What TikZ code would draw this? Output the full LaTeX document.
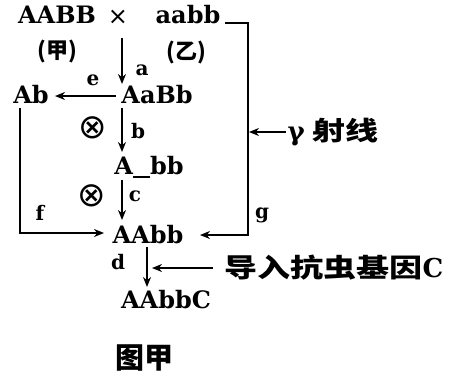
\documentclass[tikz,border=0pt]{standalone}
\usepackage{fontspec}
\setmainfont{DejaVu Serif}
\newfontfamily\symf{DejaVu Sans}
\newfontfamily\cjkf[FakeStretch=1.27]{Noto Sans CJK SC}
\newfontfamily\cjkt{Noto Sans CJK SC}
\usetikzlibrary{arrows.meta}
\tikzset{
  lat/.style={inner sep=0pt,font=\fontsize{24}{26}\selectfont\bfseries},
  lbl/.style={inner sep=0pt,font=\fontsize{20}{22}\selectfont\bfseries},
  cj/.style={inner sep=0pt,font=\fontsize{26}{28}\selectfont\cjkf\bfseries},
  cjp/.style={inner sep=0pt,font=\fontsize{22}{24}\selectfont\cjkt\bfseries},
  sym/.style={inner sep=0pt,font=\fontsize{24}{26}\selectfont\symf},
  slf/.style={inner sep=0pt,font=\fontsize{34}{36}\selectfont\symf},
  ttl/.style={inner sep=0pt,font=\fontsize{29}{31}\selectfont\cjkt\bfseries},
  conn/.style={line width=2.8pt},
  arr/.style={conn,-{Stealth[length=10pt,width=8pt]}}
}
\begin{document}
\begin{tikzpicture}[x=1pt,y=-1pt]
\useasboundingbox (0,0) rectangle (457,376);
% genotype nodes
\node[lat] (AABB) at (57,15) {AABB};
\node[sym] (cross) at (118,17) {×};
\node[lat] (aabb) at (188,15) {aabb};
\node[cjp] (jia) at (57,51) {(甲)};
\node[cjp] (yi) at (186,52) {(乙)};
\node[lat] (AaBb) at (157,95) {AaBb};
\node[lat] (Ab) at (31,95) {Ab};
\node[lat] (Abb) at (149,167) {A\rule[-3pt]{17pt}{1.6pt}bb};
\node[lat] (AAbb) at (148,235) {AAbb};
\node[lat] (AAbbC) at (166,300) {AAbbC};
\node[cj] (gene) at (334,268) {导入抗虫基因{\rmfamily C}};
\node[cj] (ray) at (333,132) {{\rmfamily γ} 射线};
\node[ttl] (fig) at (144,358) {图甲};
% selfing symbols
\node[slf] (s1) at (93,128) {⊗};
\node[slf] (s2) at (92,196) {⊗};
% labels
\node[lbl] (la) at (142,70) {a};
\node[lbl] (lb) at (138,131) {b};
\node[lbl] (lc) at (135,196) {c};
\node[lbl] (ld) at (118,262) {d};
\node[lbl] (le) at (93,80) {e};
\node[lbl] (lf) at (40,213) {f};
\node[lbl] (lg) at (262,215) {g};
% connector end points
\coordinate (a0) at (122,38);
\coordinate (a1) at (122,84);
\coordinate (b0) at (122,108);
\coordinate (b1) at (122,152);
\coordinate (c0) at (122,180);
\coordinate (c1) at (122,220);
\coordinate (d0) at (147,247);
\coordinate (d1) at (147,287);
\coordinate (r0) at (225,23);
\coordinate (r1) at (248,235);
\coordinate (r2) at (200,235);
\coordinate (e0) at (116,96);
\coordinate (e1) at (55,96);
\coordinate (l0) at (20,108);
\coordinate (l1) at (20,233);
\coordinate (l2) at (104,233);
\coordinate (g0) at (213,268);
\coordinate (g1) at (152,268);
\coordinate (y0) at (286,132);
\coordinate (y1) at (249,132);
% connectors
\draw[arr] (a0) -- (a1);
\draw[arr] (b0) -- (b1);
\draw[arr] (c0) -- (c1);
\draw[arr] (d0) -- (d1);
\draw[arr] (e0) -- (e1);
\draw[arr] (r0) -| (r1) -- (r2);
\draw[arr] (l0) -- (l1) -- (l2);
\draw[arr] (y0) -- (y1);
\draw[arr] (g0) -- (g1);
\end{tikzpicture}
\end{document}
